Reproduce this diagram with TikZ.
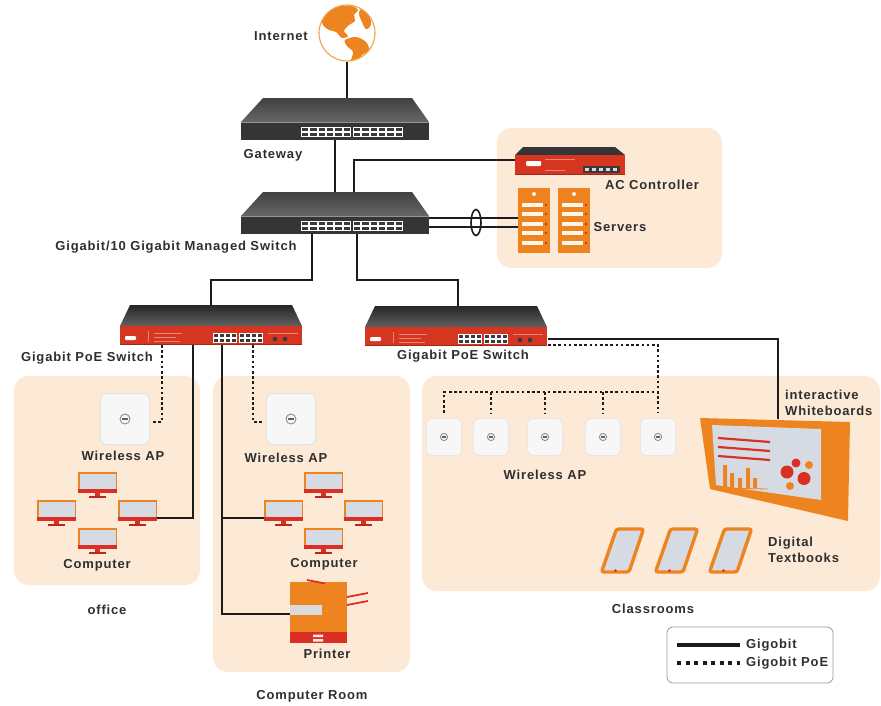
\documentclass[tikz,border=0pt]{standalone}
\usepackage{fontspec}
\setmainfont{Liberation Sans}[LetterSpace=6.5]
\usetikzlibrary{calc}

\definecolor{peach}{HTML}{FCE9D6}
\definecolor{accent}{HTML}{EE8420}
\definecolor{alarm}{HTML}{DC2F24}
\definecolor{poered}{HTML}{D6351F}
\definecolor{screen}{HTML}{D6DBE3}
\definecolor{wirecol}{HTML}{1C1C1C}
\definecolor{txt}{HTML}{2F2F2F}
\definecolor{casetop}{HTML}{4C4C4E}
\definecolor{casefront}{HTML}{353537}
\definecolor{portdark}{HTML}{3A3A3C}
\definecolor{apface}{HTML}{F7F7F8}
\definecolor{apedge}{HTML}{E4E1DF}
\definecolor{apicon}{HTML}{8C8C8E}
\definecolor{slot}{HTML}{DADADA}
\definecolor{globeline}{HTML}{F0A24A}

% white port block with a grid of dark sockets: x0 y0 x1 y1 columns
\newcommand{\portgrid}[5]{%
  \fill[white] (#1,#2) rectangle (#3,#4);
  \pgfmathsetmacro{\prtw}{(#3-#1)/#5}%
  \pgfmathsetmacro{\prtm}{(#2+#4)/2}%
  \foreach \k in {1,...,#5}{%
    \fill[portdark] ({#1+(\k-1)*\prtw+1},{#2+1}) rectangle ({#1+\k*\prtw-1},{\prtm-0.6});
    \fill[portdark] ({#1+(\k-1)*\prtw+1},{\prtm+0.6}) rectangle ({#1+\k*\prtw-1},{#4-1});
  }}

\tikzset{
  wire/.style={draw=wirecol, line width=2.6pt},
  poe/.style={draw=wirecol, line width=2.6pt, dash pattern=on 2.6pt off 2.6pt},
  lbl/.style={font=\fontsize{13}{16}\selectfont\bfseries, text=txt, inner sep=0pt},
  zone/.style={fill=peach, rounded corners=15pt},
  % dark rack-mount unit (gateway, core switch)
  rackdark/.pic={
    \shade[top color=casetop!85!black, bottom color=casetop!85!white] (22,0) -- (171,0) -- (188,24) -- (0,24) -- cycle;
    \fill[casefront] (0,24) rectangle (188,42);
    \fill[casetop!60!white] (0,24) rectangle (188,25);
    \portgrid{60}{29}{110}{39}{6}
    \portgrid{112}{29}{162}{39}{6}
  },
  % red-fronted PoE switch
  poeswitch/.pic={
    \shade[top color=black!85, bottom color=black!62] (10,0) -- (172,0) -- (182,21) -- (0,21) -- cycle;
    \fill[poered] (0,21) rectangle (182,40);
    \fill[poered!75!black] (0,38.5) rectangle (182,40);
    \fill[white, rounded corners=1pt] (5,31) rectangle (16,35);
    \draw[poered!60!white, line width=0.4pt] (28,26) -- (28,37) (34,28) -- (62,28) (34,32) -- (56,32) (34,36) -- (60,36)
      (148,28) -- (178,28);
    \portgrid{93}{28}{117}{38}{4}
    \portgrid{119}{28}{143}{38}{4}
    \fill[portdark] (155,34) circle (2.3) (165,34) circle (2.3);
  },
  % desktop computer
  pcmon/.pic={
    \fill[accent] (-19.5,0) rectangle (19.5,18);
    \fill[screen] (-18,1.5) rectangle (18,17);
    \fill[alarm] (-19.5,17) rectangle (19.5,21);
    \fill[alarm] (-2.5,21) rectangle (2.5,24);
    \fill[alarm!85!black] (-8.5,24) rectangle (8.5,26);
  },
  % ceiling access point
  apunit/.pic={
    \fill[apedge, rounded corners=7pt] (-25,-26) rectangle (25,26);
    \fill[apface, rounded corners=6pt] (-24,-25) rectangle (24,25);
    \draw[apicon, line width=0.9pt] (0,0) circle (5);
    \fill[apicon!70!black] (-2.6,-0.9) rectangle (2.6,0.9);
  },
  % tablet
  tabletdev/.pic={
    \draw[accent, line width=3.4pt, fill=screen, rounded corners=2.5pt]
      (18.5,2) -- (45.5,2) -- (31,45) -- (3.5,45) -- cycle;
    \fill[alarm] (17.5,43.6) circle (1.4);
  },
  % rack server
  server/.pic={
    \fill[accent] (0,0) rectangle (32,65);
    \fill[white!90!accent] (16,6) circle (2);
    \foreach \sy in {17,26,36,45,55}{
      \fill[white!92!accent] (4,\sy-1.6) rectangle (25,\sy+1.6);
      \fill[alarm] (28,\sy) circle (1.4);
    }
  }
}

\begin{document}
\begin{tikzpicture}[x=1pt,y=-1pt]
\useasboundingbox (0,0) rectangle (881,705);
\fill[white] (0,0) rectangle (881,705);

% ---------- site areas ----------
\fill[zone] (497,128) rectangle (722,268);
\fill[zone] (14,376) rectangle (200,585);
\fill[zone] (213,376) rectangle (410,672);
\fill[zone] (422,376) rectangle (880,591);

% ---------- connection points ----------
\coordinate (gwN) at (347,98);
\coordinate (gwS) at (335,140);
\coordinate (msN) at (335,192);
\coordinate (msAC) at (354,192);
\coordinate (acW) at (515,160);
\coordinate (msE1) at (429,218);
\coordinate (msE2) at (429,227);
\coordinate (srvW1) at (518,218);
\coordinate (srvW2) at (518,227);
\coordinate (msSL) at (312,234);
\coordinate (msSR) at (357,234);
\coordinate (poeAN) at (211,305);
\coordinate (poeBN) at (458,307);
\coordinate (poeA1) at (162,345);
\coordinate (poeA2) at (193,345);
\coordinate (poeA3) at (222,345);
\coordinate (poeA4) at (253,345);
\coordinate (apOffE) at (151,422);
\coordinate (apRoomW) at (262,422);
\coordinate (pcOffE) at (157,518);
\coordinate (pcRoomW) at (264,518);
\coordinate (roomJct) at (222,518);
\coordinate (prnW) at (290,614);
\coordinate (poeBE1) at (548,339);
\coordinate (poeBE2) at (548,345);
\coordinate (wbN) at (778,419);
\coordinate (busL) at (444,392);
\coordinate (busR) at (658,392);
\foreach \n/\xx in {1/444,2/491,3/545,4/603,5/658}{
  \coordinate (apC\n) at (\xx,413);
}
\foreach \n/\xx in {2/491,3/545,4/603}{
  \coordinate (bus\n) at (\xx,392);
}

% ---------- Internet ----------
\node[circle, draw=globeline, line width=1.1pt, fill=white, minimum size=56pt, inner sep=0pt] (globe) at (347,33) {};
\begin{scope}
  \clip (347,33) circle (27.5);
  \fill[accent] plot[smooth cycle, tension=0.55] coordinates {(322,16) (330,9) (340,6) (352,6) (358,10) (354,15) (355,21) (349,25) (344,31) (348,36) (342,38) (336,32) (329,30) (323,25)};
  \fill[accent] plot[smooth cycle, tension=0.55] coordinates {(345,40) (356,37) (366,42) (369,50) (362,55) (356,62) (351,61) (353,52) (347,46)};
  \fill[accent] plot[smooth cycle, tension=0.55] coordinates {(361,9) (369,15) (371,25) (366,29) (362,22) (359,14)};
\end{scope}
\node[lbl] (tInternet) at (281,36) {Internet};

% ---------- wiring ----------
\draw[wire] (globe.south) -- (gwN);
\draw[wire] (gwS) -- (msN);
\draw[wire] (msAC) |- (acW);
\draw[wire] (msE1) -- (srvW1);
\draw[wire] (msE2) -- (srvW2);
\draw[wirecol, line width=1.6pt] (476,222.5) ellipse (5 and 13);
\draw[wire] (msSL) -- ++(0,46) -| (poeAN);
\draw[wire] (msSR) -- ++(0,46) -| (poeBN);
\draw[poe] (poeA1) |- (apOffE);
\draw[poe] (poeA4) |- (apRoomW);
\draw[wire] (poeA2) |- (pcOffE);
\draw[wire] (poeA3) |- (prnW);
\draw[wire] (roomJct) -- (pcRoomW);
\draw[wire] (poeBE1) -| (wbN);
\draw[poe] (poeBE2) -| (apC5);
\draw[poe] (apC1) |- (busR);
\foreach \n in {2,3,4}{ \draw[poe] (bus\n) -- (apC\n); }

% ---------- core devices ----------
\pic at (241,98) {rackdark};
\node[lbl] (tGateway) at (273,155) {Gateway};
\pic at (241,192) {rackdark};
\node[lbl] (tCore) at (176,247) {Gigabit/10 Gigabit Managed Switch};

% AC controller
\fill[casefront] (523,147) -- (615,147) -- (625,155) -- (515,155) -- cycle;
\fill[poered] (515,155) rectangle (625,175);
\fill[poered!75!black] (515,173.5) rectangle (625,175);
\fill[white, rounded corners=1pt] (526,161) rectangle (541,166);
\draw[poered!60!white, line width=0.4pt] (545,159) -- (575,159) (545,170) -- (565,170);
\fill[portdark] (583,166) rectangle (620,173);
\foreach \px in {587,594,601,608,615}{ \fill[white!85!black] (\px-2,168) rectangle (\px+2,171); }
\node[lbl] (tAC) at (652,185) {AC Controller};

% servers
\pic at (518,188) {server};
\pic at (558,188) {server};
\node[lbl] (tServers) at (620,227) {Servers};

% PoE switches
\pic at (120,305) {poeswitch};
\node[lbl] (tPoeA) at (87,358) {Gigabit PoE Switch};
\pic at (365,306) {poeswitch};
\node[lbl] (tPoeB) at (463,356) {Gigabit PoE Switch};

% ---------- office ----------
\pic at (125,419) {apunit};
\node[lbl] (tApOff) at (123,456) {Wireless AP};
\pic at (97.5,472) {pcmon};
\pic at (56.5,500) {pcmon};
\pic at (137.5,500) {pcmon};
\pic at (97.5,528) {pcmon};
\node[lbl] (tPcOff) at (97,565) {Computer};
\node[lbl] (tOffice) at (107,610) {office};

% ---------- computer room ----------
\pic at (291,419) {apunit};
\node[lbl] (tApRoom) at (286,458) {Wireless AP};
\pic at (323.5,472) {pcmon};
\pic at (283.5,500) {pcmon};
\pic at (363.5,500) {pcmon};
\pic at (323.5,528) {pcmon};
\node[lbl] (tPcRoom) at (324,564) {Computer};
% printer
\fill[accent] (290,582) rectangle (347,632);
\fill[alarm] (290,632) rectangle (347,643);
\fill[slot] (290,605) rectangle (322,615);
\fill[white!90!alarm] (313,634.5) rectangle (323,637) (313,639) rectangle (323,641.5);
\draw[alarm, line width=1.8pt] (307,580) -- (325,583.5);
\draw[alarm, line width=1.8pt] (347,597) -- (368,593) (347,605) -- (368,601);
\node[lbl] (tPrinter) at (327,654) {Printer};
\node[lbl] (tRoom) at (312,696) {Computer Room};

% ---------- classrooms ----------
\foreach \xx in {444,491,545,603,658}{
  \pic[scale=0.72] at (\xx,437) {apunit};
}
\node[lbl] (tApCls) at (545,475) {Wireless AP};
% whiteboard
\fill[accent] (700,418) -- (850,422) -- (848,521) -- (710,489) -- cycle;
\fill[screen] (712,425) -- (821,429) -- (821,500) -- (716,485) -- cycle;
\draw[alarm, line width=2.2pt] (718,438) -- (770,442) (718,447) -- (770,451) (718,456) -- (770,460);
\fill[accent] (723,465) rectangle (727,488) (730,473) rectangle (734,488) (738,478) rectangle (742,488)
  (746,468) rectangle (750,488) (753,478) rectangle (757,488);
\draw[accent, line width=0.8pt] (721,488) -- (768,489);
\fill[alarm] (796,463) circle (4.5) (787,472) circle (6.5) (804,478.5) circle (6.5);
\fill[accent] (809,465) circle (4) (790,486) circle (4);
\node[lbl, anchor=west, align=left] (tWb) at (785,403) {interactive\\Whiteboards};
% tablets
\pic at (598,527) {tabletdev};
\pic at (652,527) {tabletdev};
\pic at (706,527) {tabletdev};
\node[lbl, anchor=west, align=left] (tBooks) at (768,550) {Digital\\Textbooks};
\node[lbl] (tCls) at (653,609) {Classrooms};

% ---------- legend ----------
\draw[black!40, line width=0.8pt, rounded corners=6pt] (667,627) rectangle (833,683);
\coordinate (legA1) at (677,645);
\coordinate (legA2) at (740,645);
\coordinate (legB1) at (677,663);
\coordinate (legB2) at (740,663);
\draw[wirecol, line width=4pt] (legA1) -- (legA2);
\draw[wirecol, line width=4pt, dash pattern=on 4pt off 4.5pt] (legB1) -- (legB2);
\node[lbl, anchor=west] (tLegA) at (746,645) {Gigobit};
\node[lbl, anchor=west] (tLegB) at (746,663) {Gigobit PoE};
\end{tikzpicture}
\end{document}
